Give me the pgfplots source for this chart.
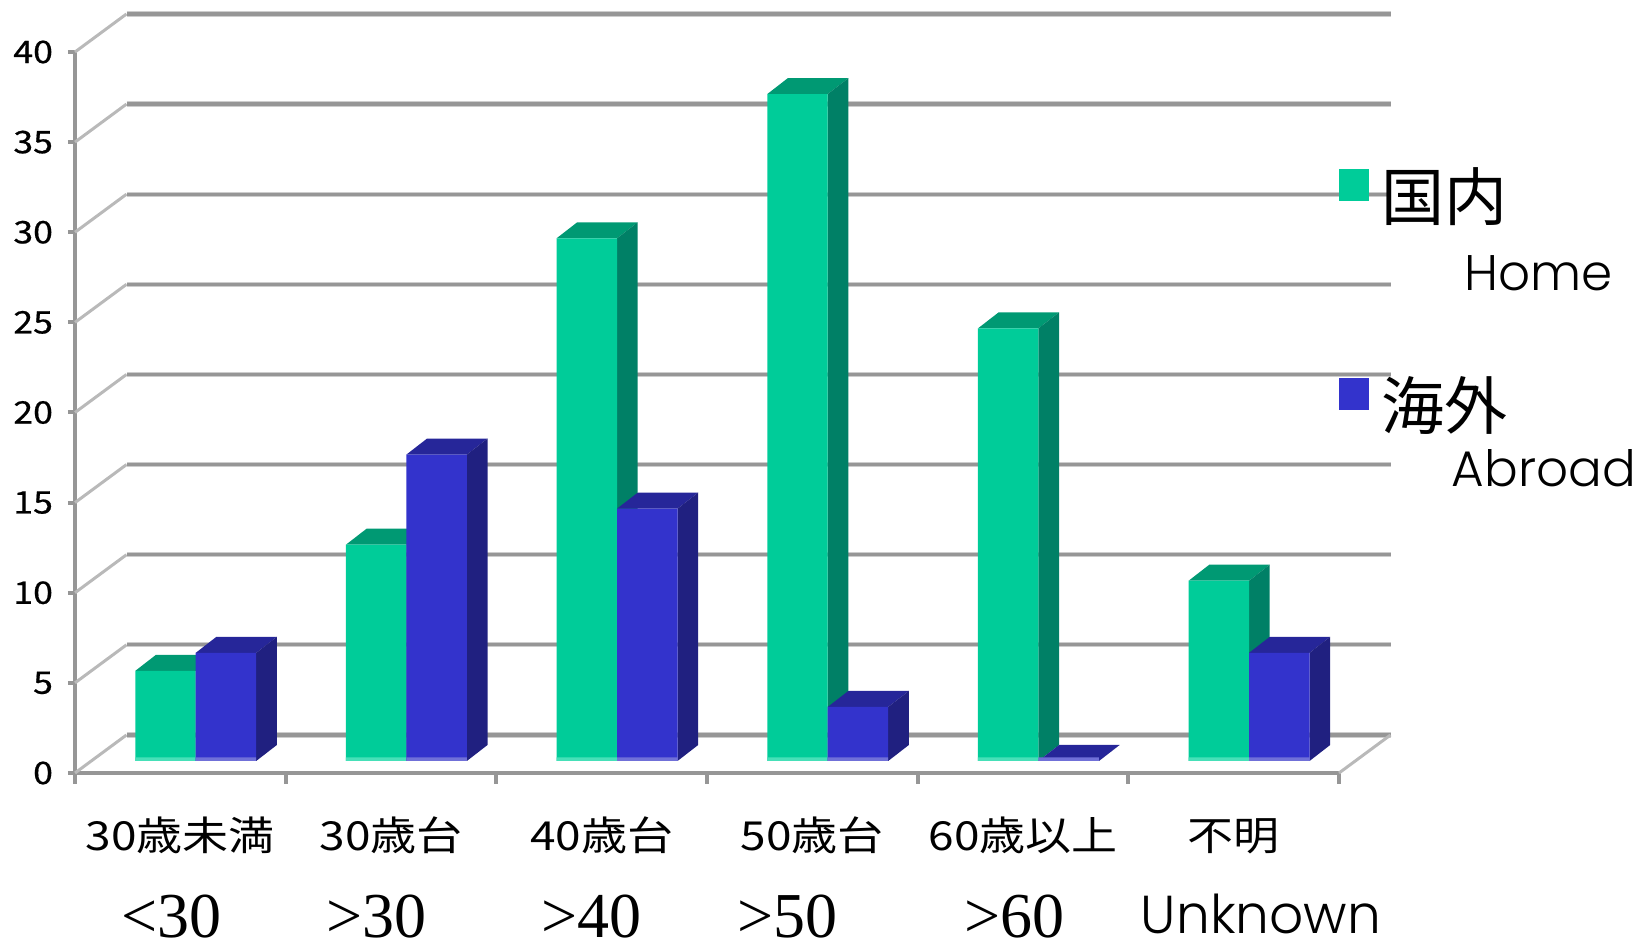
\documentclass[border=0pt]{standalone}
\usepackage{fontspec}
\usepackage{pgfplots}
\pgfplotsset{compat=1.18}
\setmainfont{Liberation Serif}
\newfontfamily\jp[FakeStretch=1.15]{Noto Sans CJK JP}
\newfontfamily\jpb[FakeStretch=1.15,FakeBold=0.6]{Noto Sans CJK JP}
\newfontfamily\jpl{Noto Sans CJK JP}
\newfontfamily\pop{Poppins Light}
\definecolor{grn}{RGB}{0,204,153}
\definecolor{blu}{RGB}{51,51,204}
\definecolor{grnS}{RGB}{0,128,102}
\definecolor{grnT}{RGB}{0,153,115}
\definecolor{bluS}{RGB}{32,32,128}
\definecolor{bluT}{RGB}{38,38,153}
\definecolor{grnL}{RGB}{70,224,184}
\definecolor{bluL}{RGB}{112,112,216}
\definecolor{ax}{RGB}{150,150,150}
\definecolor{axL}{RGB}{205,205,205}
\definecolor{axD}{RGB}{185,185,185}
% depth of a bar, in axis units
\def\bdx{0.098}\def\bdy{0.888}
% back wall offset
\def\wallx{0.2445}\def\wally{2.11}
\newcommand{\gridrow}[1]{%
  \pgfmathsetmacro\gy{#1+\wally}%
  \addplot[forget plot,axD,line width=1.5pt] coordinates {(0,#1)(\wallx,\gy)};
  \addplot[forget plot,axL,line width=2.6pt] coordinates {(\wallx,\gy)(6.2445,\gy)};
  \addplot[forget plot,ax,line width=1.6pt] coordinates {(\wallx,\gy)(6.2445,\gy)};
}
\newcommand{\barfaces}[4]{% left x, value, side colour, top colour
  \pgfmathsetmacro\xa{#1}\pgfmathsetmacro\xb{#1+0.287}\pgfmathsetmacro\xc{#1+0.287+\bdx}\pgfmathsetmacro\xd{#1+\bdx}%
  \pgfmathsetmacro\yb{#2+\bdy}\edef\ya{#2}%
  \addplot[forget plot,draw=none,fill=#4,xshift=7.7pt,yshift=6pt] coordinates {(\xa,\ya)(\xb,\ya)(\xc,\yb)(\xd,\yb)};
  \addplot[forget plot,draw=none,fill=#3,xshift=7.7pt,yshift=6pt] coordinates {(\xb,0)(\xc,\bdy)(\xc,\yb)(\xb,\ya)};
}
\begin{document}
\begin{tikzpicture}
\useasboundingbox (0,0) rectangle (825pt,471pt);
\begin{axis}[
  at={(37.5pt,84.5pt)},anchor=south west,
  scale only axis,width=632pt,height=360.5pt,
  xmin=0,xmax=6,ymin=0,ymax=40,clip=false,
  axis x line=bottom,axis y line=left,
  axis line style={ax,line width=2pt,-},
  tick align=outside,
  xtick={0.5,1.5,2.5,3.5,4.5,5.5},
  xticklabels={30歳未満,30歳台,40歳台,50歳台,60歳以上,不明},
  minor xtick={0,1,2,3,4,5,6},
  major x tick style={draw=none},
  minor x tick style={ax,line width=2pt},
  minor tick length=5.5pt,
  major tick length=3.5pt,
  ytick={0,5,...,40},
  y tick style={ax,line width=2pt},
  /pgf/number format/assume math mode=true,
  xticklabel style={font=\jp\fontsize{20pt}{20pt}\selectfont,anchor=base,yshift=-35.5pt},
  yticklabel style={font=\jpb\fontsize{15.5pt}{16pt}\selectfont,xshift=-4pt},
  legend style={draw=none,fill=none,at={(axis cs:6,33.61)},anchor=north west,inner sep=0pt,outer sep=0pt,
    row sep=76.5pt,nodes={inner sep=0pt,anchor=base west}},
  legend cell align=left,
  legend image code/.code={\fill[#1] (0,10pt) rectangle (14.5pt,25.5pt);},
]
\addlegendimage{grn}
\addlegendentry{\hspace*{6.5pt}\parbox[t]{140pt}{\jpl\fontsize{31.5pt}{31.5pt}\selectfont 国内\\[10pt]\hspace*{41.5pt}\pop\fontsize{25pt}{25pt}\selectfont Home}}
\addlegendimage{blu}
\addlegendentry{\hspace*{6.5pt}\parbox[t]{140pt}{\jpl\fontsize{31.5pt}{31.5pt}\selectfont 海外\\[3.5pt]\hspace*{35pt}\pop\fontsize{25pt}{25pt}\selectfont Abroad}}
% back wall
\gridrow{0}\gridrow{5}\gridrow{10}\gridrow{15}\gridrow{20}\gridrow{25}\gridrow{30}\gridrow{35}\gridrow{40}
\addplot[forget plot,axD,line width=1.5pt] coordinates {(6,0)(6.2445,2.11)};
% side and top faces, home
\barfaces{0.213}{5}{grnS}{grnT}
\barfaces{1.213}{12}{grnS}{grnT}
\barfaces{2.213}{29}{grnS}{grnT}
\barfaces{3.213}{37}{grnS}{grnT}
\barfaces{4.213}{24}{grnS}{grnT}
\barfaces{5.213}{10}{grnS}{grnT}
% front faces, home
\addplot[forget plot,ybar,bar width=0.287,bar shift=-0.1435,draw=none,fill=grn,xshift=7.7pt,yshift=6pt]
  coordinates {(0.5,5)(1.5,12)(2.5,29)(3.5,37)(4.5,24)(5.5,10)};
\addplot[forget plot,ybar,bar width=0.287,bar shift=-0.1435,draw=none,fill=grnL,xshift=7.7pt,yshift=6pt]
  coordinates {(0.5,0.2)(1.5,0.2)(2.5,0.2)(3.5,0.2)(4.5,0.2)(5.5,0.2)};
% side and top faces, abroad
\barfaces{0.5}{6}{bluS}{bluT}
\barfaces{1.5}{17}{bluS}{bluT}
\barfaces{2.5}{14}{bluS}{bluT}
\barfaces{3.5}{3}{bluS}{bluT}
\barfaces{4.5}{0}{bluS}{bluT}
\barfaces{5.5}{6}{bluS}{bluT}
% front faces, abroad
\addplot[forget plot,ybar,bar width=0.287,bar shift=0.1435,draw=none,fill=blu,xshift=7.7pt,yshift=6pt]
  coordinates {(0.5,6)(1.5,17)(2.5,14)(3.5,3)(4.5,0)(5.5,6)};
\addplot[forget plot,ybar,bar width=0.287,bar shift=0.1435,draw=none,fill=bluL,xshift=7.7pt,yshift=6pt]
  coordinates {(0.5,0.2)(1.5,0.2)(2.5,0.2)(3.5,0.2)(4.5,0.2)(5.5,0.2)};
% second row of category names
\node[anchor=base,font=\fontsize{32pt}{32pt}\selectfont] at (axis cs:0.46,-9.1) {<30};
\node[anchor=base,font=\fontsize{32pt}{32pt}\selectfont] at (axis cs:1.43,-9.1) {>30};
\node[anchor=base,font=\fontsize{32pt}{32pt}\selectfont] at (axis cs:2.45,-9.1) {>40};
\node[anchor=base,font=\fontsize{32pt}{32pt}\selectfont] at (axis cs:3.38,-9.1) {>50};
\node[anchor=base,font=\fontsize{32pt}{32pt}\selectfont] at (axis cs:4.46,-9.1) {>60};
\node[anchor=base,font=\pop\fontsize{26.7pt}{26.7pt}\selectfont] at (axis cs:5.63,-8.9) {Unknown};
\end{axis}
\end{tikzpicture}
\end{document}
